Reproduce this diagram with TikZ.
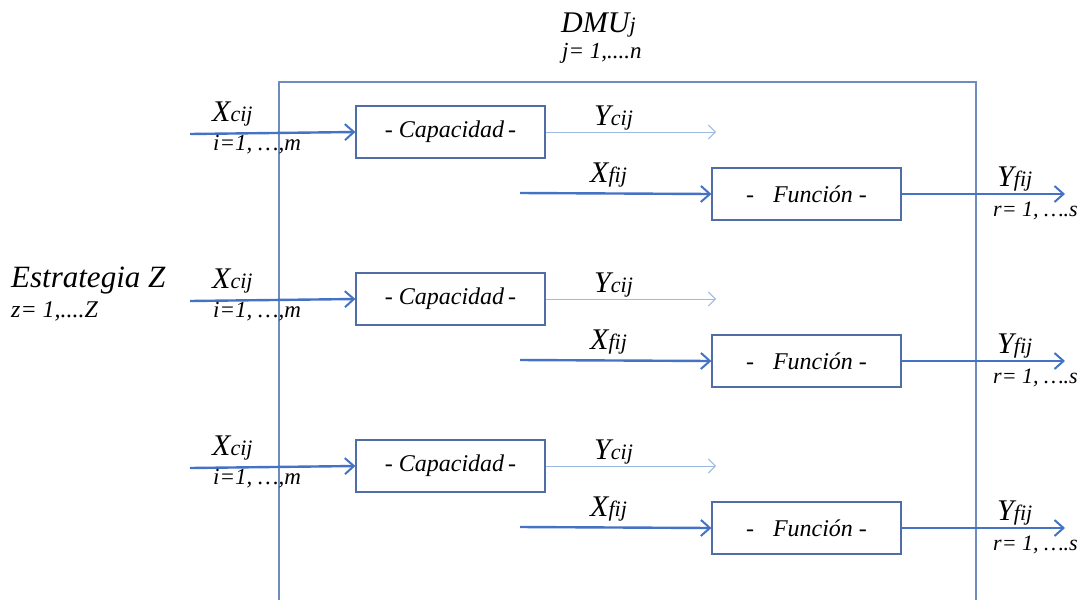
\documentclass[tikz,border=0pt]{standalone}
\usepackage{fontspec}
\setmainfont{Liberation Serif}
\usetikzlibrary{arrows.meta}
\definecolor{flow}{RGB}{68,114,196}
\definecolor{thinflow}{RGB}{155,185,225}
\definecolor{frame}{RGB}{110,140,190}
\definecolor{boxline}{RGB}{80,110,165}
\newcommand{\fs}[1]{\fontsize{#1}{#1}\selectfont}
\newcommand{\sym}[2]{{\fs{30}#1}{\fs{22}#2}}
\tikzset{
  unitbox/.style={draw=boxline, line width=1.2pt, fill=white, minimum width=189pt, minimum height=52pt, inner sep=0pt, font=\fs{24}\itshape},
  mainflow/.style={draw=flow, line width=2.4pt, -{Straight Barb[length=9pt,width=16pt,line width=2pt]}},
  sideflow/.style={draw=thinflow, line width=1pt, -{Straight Barb[length=7pt,width=14pt,line width=1pt]}},
  lbl/.style={anchor=base west, inner sep=0pt, font=\itshape},
}
\begin{document}
\begin{tikzpicture}[x=1pt,y=-1pt]
\useasboundingbox (0,0) rectangle (1083,600);
% DMU frame (open at the bottom)
\draw[frame, line width=1.3pt] (279,600) -- (279,82) -- (976,82) -- (976,600);
\node[lbl] (dmu) at (561,32) {{\fs{30}DMU}{\fs{22}j}};
\node[lbl] (dmuidx) at (562,58) {\fs{23}j= 1,....n};
\node[lbl] (estr) at (11,287) {\fs{31}Estrategia Z};
\node[lbl] (estridx) at (11,317) {\fs{24}z= 1,....Z};
\foreach \k/\o in {1/0,2/167,3/334}{
  \node[unitbox] (cap\k) at (450.5,132+\o) {- Capacidad\,-};
  \node[unitbox] (fun\k) at (806.5,194+\o) {-\hspace{19pt}Función -};
  \coordinate (xin\k) at (190,134+\o);
  \coordinate (ycout\k) at (716,132+\o);
  \coordinate (xfin\k) at (520,193+\o);
  \coordinate (yfout\k) at (1065,194+\o);
  \draw[mainflow] (xin\k) -- (cap\k.west);
  \draw[sideflow] (cap\k.east) -- (ycout\k);
  \draw[mainflow] (xfin\k) -- (fun\k.west);
  \draw[mainflow] (fun\k.east) -- (yfout\k);
  \node[lbl] (xc\k) at (212,121+\o) {\sym{X}{cij}};
  \node[lbl] (ic\k) at (213,150+\o) {\fs{23}i=1, …,m};
  \node[lbl] (yc\k) at (594,125+\o) {\sym{Y}{cij}};
  \node[lbl] (xf\k) at (590,182+\o) {\sym{X}{fij}};
  \node[lbl] (yf\k) at (997,186+\o) {\sym{Y}{fij}};
  \node[lbl] (rr\k) at (993,216+\o) {\fs{22}r= 1, ….s};
}
\end{tikzpicture}
\end{document}
